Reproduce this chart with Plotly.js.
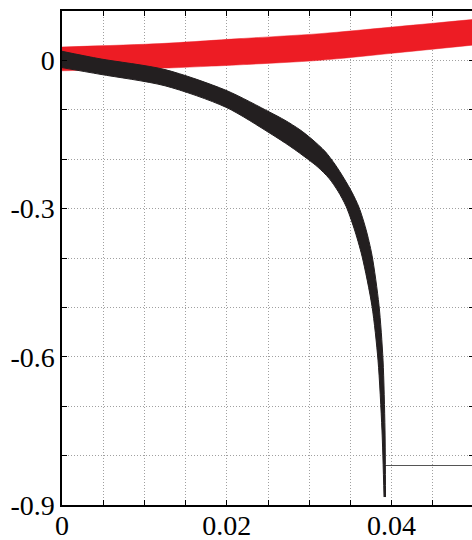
<!DOCTYPE html>
<html>
<head>
<meta charset="utf-8">
<script src="https://cdn.plot.ly/plotly-3.0.1.min.js"></script>
<style>
html,body{margin:0;padding:0;overflow:hidden;background:#fff;width:472px;height:540px;}
#chart{width:484px;height:560px;}
</style>
</head>
<body>
<div id="chart"></div>
<script>
// Red band (upper and lower edges)
const redUpperX = [0, 0.01189, 0.0216, 0.03131, 0.04005, 0.05];
const redUpperY = [0.0271, 0.0340, 0.0441, 0.0542, 0.0674, 0.0830];
const redLowerX = [0, 0.01189, 0.0216, 0.03131, 0.04005, 0.05];
const redLowerY = [-0.0210, -0.0160, -0.0089, 0.0002, 0.0144, 0.0312];

// Black band (upper/right edge and lower/left edge)
const blackUpperX = [0, 0.00461, 0.01250, 0.01990, 0.02524, 0.02706, 0.02888, 0.03034, 0.03192, 0.03313, 0.03422, 0.03519, 0.03604, 0.03689, 0.03762, 0.03847, 0.03896, 0.03920, 0.03926];
const blackUpperY = [0.0184, 0.0032, -0.0186, -0.0605, -0.1050, -0.1212, -0.1404, -0.1596, -0.1841, -0.2104, -0.2387, -0.2670, -0.2973, -0.3419, -0.3944, -0.4956, -0.6067, -0.7483, -0.8839];
const blackLowerX = [0, 0.00461, 0.01250, 0.01990, 0.02524, 0.02767, 0.02985, 0.03107, 0.03240, 0.03350, 0.03447, 0.03544, 0.03641, 0.03762, 0.03835, 0.03883, 0.03908];
const blackLowerY = [-0.0146, -0.0281, -0.0514, -0.0949, -0.1475, -0.1738, -0.2001, -0.2163, -0.2386, -0.2649, -0.2952, -0.3398, -0.3963, -0.4975, -0.6067, -0.7483, -0.8839];

// Thin limit line
const limitX = [0.0391, 0.05];
const limitY = [-0.82, -0.82];

// Ticks
const xTickVals = [0, 0.02, 0.04];
const xTickText = ['0', '0.02', '0.04'];
const yTickVals = [-0.9, -0.6, -0.3, 0];
const yTickText = ['-0.9', '-0.6', '-0.3', '0'];

const RED = '#ed1c24';
const BLACK = '#231f20';

const traces = [
  {x: redLowerX, y: redLowerY, mode: 'lines', line: {color: RED, width: 0.5, shape: 'spline', smoothing: 0.8},
   hoverinfo: 'skip', showlegend: false},
  {x: redUpperX, y: redUpperY, mode: 'lines', fill: 'tonexty', fillcolor: RED,
   line: {color: RED, width: 0.5, shape: 'spline', smoothing: 0.8}, hoverinfo: 'skip', showlegend: false},
  {x: limitX, y: limitY, mode: 'lines', line: {color: '#555555', width: 1.2},
   hoverinfo: 'skip', showlegend: false},
  {x: blackLowerX, y: blackLowerY, mode: 'lines', line: {color: BLACK, width: 1, shape: 'spline', smoothing: 0.8},
   hoverinfo: 'skip', showlegend: false},
  {x: blackUpperX, y: blackUpperY, mode: 'lines', fill: 'tonexty', fillcolor: BLACK,
   line: {color: BLACK, width: 1, shape: 'spline', smoothing: 0.8}, hoverinfo: 'skip', showlegend: false}
];

const font = {family: 'Liberation Serif', size: 28, color: '#000'};
const gridStyle = {gridcolor: '#a0a0a0', griddash: '1px,2px', gridwidth: 1};

const layout = {
  width: 484, height: 560,
  margin: {l: 62, r: 10, t: 11, b: 55},
  paper_bgcolor: '#fff', plot_bgcolor: '#fff',
  showlegend: false,
  font: font,
  xaxis: {
    range: [0, 0.05],
    tickmode: 'array', tickvals: xTickVals, ticktext: xTickText,
    ticks: 'inside', ticklen: 5, tickwidth: 1, tickcolor: '#000',
    showline: true, linecolor: '#000', linewidth: 1.6, mirror: 'ticks',
    showgrid: true, ...gridStyle, zeroline: false,
    tickfont: font, ticklabelstandoff: -5,
    minor: {dtick: 0.005, tick0: 0, ticks: 'inside', ticklen: 5, tickwidth: 1, tickcolor: '#000',
            showgrid: true, ...gridStyle}
  },
  yaxis: {
    range: [-0.9, 0.1],
    tickmode: 'array', tickvals: yTickVals, ticktext: yTickText,
    ticks: 'inside', ticklen: 5, tickwidth: 1, tickcolor: '#000',
    showline: true, linecolor: '#000', linewidth: 1.6, mirror: 'ticks',
    showgrid: true, ...gridStyle, zeroline: false,
    tickfont: font,
    minor: {dtick: 0.1, tick0: 0, ticks: 'inside', ticklen: 5, tickwidth: 1, tickcolor: '#000',
            showgrid: true, ...gridStyle}
  }
};

Plotly.newPlot('chart', traces, layout, {displayModeBar: false, staticPlot: true});
</script>
</body>
</html>
